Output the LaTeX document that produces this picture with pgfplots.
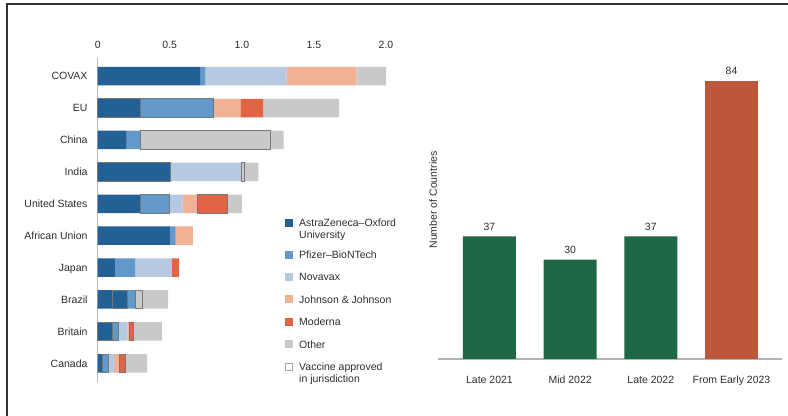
\documentclass[border=0pt]{standalone}
\usepackage{pgfplots}
\pgfplotsset{compat=1.18}
\usepackage{fontspec}
\setmainfont{Liberation Sans}
\definecolor{az}{RGB}{35,96,150}
\definecolor{pf}{RGB}{99,152,203}
\definecolor{nv}{RGB}{183,201,225}
\definecolor{jj}{RGB}{240,177,150}
\definecolor{md}{RGB}{227,100,69}
\definecolor{ot}{RGB}{200,201,203}
\definecolor{olc}{RGB}{120,120,120}
\definecolor{grn}{RGB}{30,104,72}
\definecolor{org}{RGB}{188,88,57}
\definecolor{txt}{RGB}{45,45,45}
\newcommand{\cf}{\fontsize{10.5bp}{11.7bp}\selectfont}
\begin{document}
\begin{tikzpicture}
\path[use as bounding box] (0bp,0bp) rectangle (788bp,416bp);
\draw[line width=1.5bp, black!80] (7bp,0bp) -- (7bp,412bp) -- (788bp,412bp);

% Left chart: filled segments
\begin{axis}[
  at={(97.7bp,358bp)}, anchor=north west,
  scale only axis, width=288.3bp, height=324.4bp,
  xbar stacked, bar width=0.58,
  xmin=0, xmax=2, ymin=-0.57, ymax=9.6, y dir=reverse,
  axis x line*=top, axis y line*=left,
  x axis line style={draw=none},
  y axis line style={draw=gray!55, line width=1.5bp},
  xtick={0,0.5,1,1.5,2}, xticklabels={0,0.5,1.0,1.5,2.0},
  ytick={0,...,9},
  yticklabels={COVAX,EU,China,India,United States,African Union,Japan,Brazil,Britain,Canada},
  major tick length=0pt,
  tick label style={font=\cf, text=txt},
  xticklabel style={anchor=south, inner sep=0pt, yshift=9.2bp},
  yticklabel style={anchor=base east, inner sep=0pt, xshift=-10bp, yshift=-3.8bp},
  legend image code/.code={\fill[#1] (0bp,0bp) rectangle (8bp,8bp);},
  legend cell align=left,
  legend style={at={(axis description cs:0.6497,0.5046)}, anchor=north west,
    draw=none, fill=none, inner sep=0pt, row sep=12.4bp, column sep=6bp,
    font=\cf, cells={anchor=base west},
    nodes={inner sep=0pt, text height=8bp, text depth=2bp, text=txt}},
]
\addplot[fill=az, draw=none] coordinates {(0.71,0) (0,1) (0.20,2) (0,3) (0.30,4) (0.50,5) (0.12,6) (0.10,7) (0,8) (0.03,9)};
\addlegendentry[text depth=11.2bp]{\begin{tabular}[t]{@{}l@{}}AstraZeneca–Oxford\\University\end{tabular}}
\addplot[fill=az, draw=none, forget plot] coordinates {(0,0) (0.30,1) (0,2) (0.505,3) (0,4) (0,5) (0,6) (0.105,7) (0.10,8) (0,9)};
\addplot[fill=pf, draw=none] coordinates {(0.035,0) (0,1) (0.10,2) (0,3) (0,4) (0.04,5) (0.14,6) (0.06,7) (0,8) (0,9)};
\addlegendentry{Pfizer–BioNTech}
\addplot[fill=pf, draw=none, forget plot] coordinates {(0,0) (0.50,1) (0,2) (0,3) (0.20,4) (0,5) (0,6) (0,7) (0.045,8) (0.042,9)};
\addplot[fill=nv, draw=none] coordinates {(0.565,0) (0,1) (0,2) (0.495,3) (0.09,4) (0,5) (0.255,6) (0,7) (0.06,8) (0.04,9)};
\addlegendentry{Novavax}
\addplot[fill=jj, draw=none] coordinates {(0.485,0) (0.19,1) (0,2) (0,3) (0.105,4) (0.12,5) (0,6) (0,7) (0.013,8) (0.037,9)};
\addlegendentry{Johnson \& Johnson}
\addplot[fill=md, draw=none] coordinates {(0,0) (0.157,1) (0,2) (0,3) (0,4) (0,5) (0.05,6) (0,7) (0,8) (0,9)};
\addlegendentry{Moderna}
\addplot[fill=md, draw=none, forget plot] coordinates {(0,0) (0,1) (0,2) (0,3) (0.205,4) (0,5) (0,6) (0,7) (0.03,8) (0.041,9)};
\addplot[fill=ot, draw=none] coordinates {(0,0) (0,1) (0.90,2) (0.018,3) (0,4) (0,5) (0,6) (0.048,7) (0,8) (0,9)};
\addlegendentry{Other}
\addplot[fill=ot, draw=none, forget plot] coordinates {(0.205,0) (0.527,1) (0.09,2) (0.097,3) (0.10,4) (0,5) (0,6) (0.176,7) (0.197,8) (0.153,9)};
\addlegendimage{legend image code/.code={\draw[gray!70, fill=white, line width=0.8bp] (0.5bp,0.5bp) rectangle (7.5bp,7.5bp);}}
\addlegendentry{\begin{tabular}[t]{@{}l@{}}Vaccine approved\\in jurisdiction\end{tabular}}
\end{axis}

% Left chart: outlines of vaccines approved in jurisdiction
\begin{axis}[
  at={(97.7bp,358bp)}, anchor=north west,
  scale only axis, width=288.3bp, height=324.4bp,
  xmin=0, xmax=2, ymin=-0.57, ymax=9.6, y dir=reverse,
  hide axis, clip=false,
]
\addplot[draw=olc, line width=1bp] coordinates {(0,0.71) (0.30,0.71) (0.30,1.29) (0,1.29)} -- cycle;
\addplot[draw=olc, line width=1bp] coordinates {(0.30,0.71) (0.80,0.71) (0.80,1.29) (0.30,1.29)} -- cycle;
\addplot[draw=olc, line width=1bp] coordinates {(0.30,1.71) (1.20,1.71) (1.20,2.29) (0.30,2.29)} -- cycle;
\addplot[draw=olc, line width=1bp] coordinates {(0,2.71) (0.505,2.71) (0.505,3.29) (0,3.29)} -- cycle;
\addplot[draw=olc, line width=1bp] coordinates {(1.0,2.71) (1.018,2.71) (1.018,3.29) (1.0,3.29)} -- cycle;
\addplot[draw=olc, line width=1bp] coordinates {(0.30,3.71) (0.50,3.71) (0.50,4.29) (0.30,4.29)} -- cycle;
\addplot[draw=olc, line width=1bp] coordinates {(0.695,3.71) (0.90,3.71) (0.90,4.29) (0.695,4.29)} -- cycle;
\addplot[draw=olc, line width=1bp] coordinates {(0.10,6.71) (0.205,6.71) (0.205,7.29) (0.10,7.29)} -- cycle;
\addplot[draw=olc, line width=1bp] coordinates {(0.265,6.71) (0.313,6.71) (0.313,7.29) (0.265,7.29)} -- cycle;
\addplot[draw=olc, line width=1bp] coordinates {(0,7.71) (0.10,7.71) (0.10,8.29) (0,8.29)} -- cycle;
\addplot[draw=olc, line width=1bp] coordinates {(0.10,7.71) (0.145,7.71) (0.145,8.29) (0.10,8.29)} -- cycle;
\addplot[draw=olc, line width=1bp] coordinates {(0.218,7.71) (0.248,7.71) (0.248,8.29) (0.218,8.29)} -- cycle;
\addplot[draw=olc, line width=1bp] coordinates {(0.03,8.71) (0.072,8.71) (0.072,9.29) (0.03,9.29)} -- cycle;
\addplot[draw=olc, line width=1bp] coordinates {(0.149,8.71) (0.19,8.71) (0.19,9.29) (0.149,9.29)} -- cycle;
\end{axis}

% Right chart
\begin{axis}[
  at={(438bp,57bp)}, anchor=south west,
  scale only axis, width=344bp, height=298bp,
  ybar, bar width=0.657, bar shift=0pt,
  xmin=-0.638, xmax=3.626, ymin=0, ymax=90,
  axis x line*=bottom, axis y line*=left,
  x axis line style={draw=gray!60, line width=1.5bp},
  y axis line style={draw=none},
  ytick=\empty, xtick={0,1,2,3},
  xticklabels={Late 2021,Mid 2022,Late 2022,From Early 2023},
  major tick length=0pt,
  tick label style={font=\cf, text=txt},
  xticklabel style={anchor=north, inner sep=0pt, yshift=-17bp},
  ylabel={Number of Countries},
  ylabel style={at={(axis description cs:-0.0145,0.5336)}, anchor=center, font=\cf, text=txt},
  nodes near coords,
  every node near coord/.append style={font=\cf, text=txt, anchor=base, inner sep=0pt, yshift=6.2bp},
  /pgf/number format/assume math mode=true,
  clip=false,
]
\addplot[fill=grn, draw=none] coordinates {(0,37) (1,30) (2,37)};
\addplot[fill=org, draw=none] coordinates {(3,84)};
\end{axis}
\end{tikzpicture}
\end{document}
